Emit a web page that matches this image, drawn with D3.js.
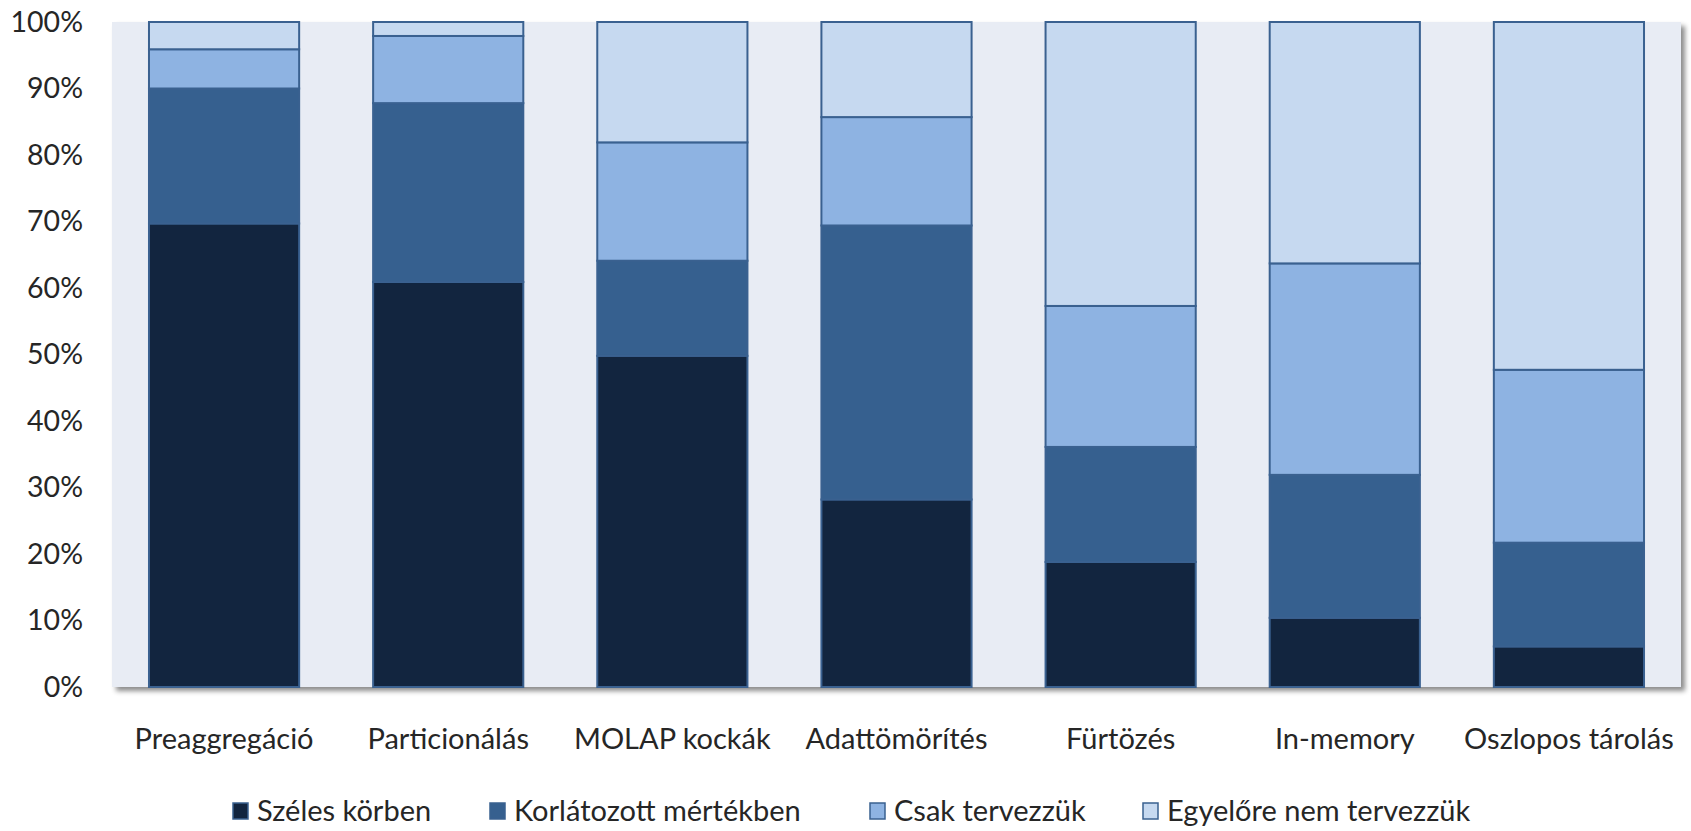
<!DOCTYPE html>
<html><head><meta charset="utf-8">
<script src="https://cdn.jsdelivr.net/npm/d3@7"></script>
<style>body{margin:0;background:#fff}svg{display:block}text{font-family:Lato,"Open Sans",sans-serif;fill:#262626}</style>
</head><body><svg id="c" width="1691" height="831"></svg>
<script>
const categories = ["Preaggregáció","Particionálás","MOLAP kockák","Adattömörítés","Fürtözés","In-memory","Oszlopos tárolás"];
const seriesNames = ["Széles körben","Korlátozott mértékben","Csak tervezzük","Egyelőre nem tervezzük"];
const szeles      = [69.7, 60.9, 49.8, 28.2, 18.8, 10.4, 6.1];
const korlatozott = [20.3, 26.9, 14.3, 41.2, 17.3, 21.5, 15.6];
const csak        = [5.9, 10.1, 17.8, 16.3, 21.2, 31.8, 26.0];
const egyelore    = [4.1, 2.1, 18.1, 14.3, 42.7, 36.3, 52.3];
const yTicks = [0,10,20,30,40,50,60,70,80,90,100];
const colors = ["#12253f","#36608f","#8eb3e2","#c6d9f0"];

const svg = d3.select("#c");
const m = {left:112, right:1681, top:22, bottom:687};
const x = d3.scaleBand().domain(categories).range([m.left,m.right]).paddingInner(0.33).paddingOuter(0.165);
const y = d3.scaleLinear().domain([0,100]).range([m.bottom,m.top]);

const defs = svg.append("defs");
const f = defs.append("filter").attr("id","sh").attr("x","-5%").attr("y","-5%").attr("width","110%").attr("height","115%");
f.append("feDropShadow").attr("dx",4).attr("dy",4).attr("stdDeviation",2.5).attr("flood-color","#000").attr("flood-opacity",0.45);

svg.append("rect").attr("x",m.left).attr("y",m.top).attr("width",m.right-m.left).attr("height",m.bottom-m.top)
  .attr("fill","#e8ecf4").attr("filter","url(#sh)");

const rows = categories.map((c,i)=>({cat:c, s0:szeles[i], s1:korlatozott[i], s2:csak[i], s3:egyelore[i]}));
const stack = d3.stack().keys(["s0","s1","s2","s3"])(rows);

svg.append("g").selectAll("g").data(stack).join("g")
  .attr("fill",(d,i)=>colors[i])
  .selectAll("rect").data(d=>d).join("rect")
  .attr("x",d=>x(d.data.cat)).attr("width",x.bandwidth())
  .attr("y",d=>y(d[1])).attr("height",d=>y(d[0])-y(d[1]))
  .attr("stroke","#3a6190").attr("stroke-width",2);

// y axis
const ya = svg.append("g").attr("transform",`translate(${m.left},0)`)
  .call(d3.axisLeft(y).tickValues(yTicks).tickFormat(d=>d+"%").tickSize(0).tickPadding(29));
ya.select(".domain").remove();
ya.selectAll("text").style("font-size","28.5px").attr("fill","#262626");

// x axis
const xa = svg.append("g").attr("transform",`translate(0,${m.bottom})`)
  .call(d3.axisBottom(x).tickSize(0).tickPadding(41));
xa.select(".domain").remove();
xa.selectAll("text").style("font-size","29px").attr("fill","#262626");

// legend
const legX = [233, 490, 870, 1143];
const lg = svg.append("g").selectAll("g").data(seriesNames).join("g")
  .attr("transform",(d,i)=>`translate(${legX[i]},811)`);
lg.append("rect").attr("x",0).attr("y",-8).attr("width",15).attr("height",16)
  .attr("fill",(d,i)=>colors[i]).attr("stroke","#3a6190").attr("stroke-width",1.5);
lg.append("text").attr("x",24).attr("dy","0.35em").style("font-size","29px").text(d=>d);
</script></body></html>
